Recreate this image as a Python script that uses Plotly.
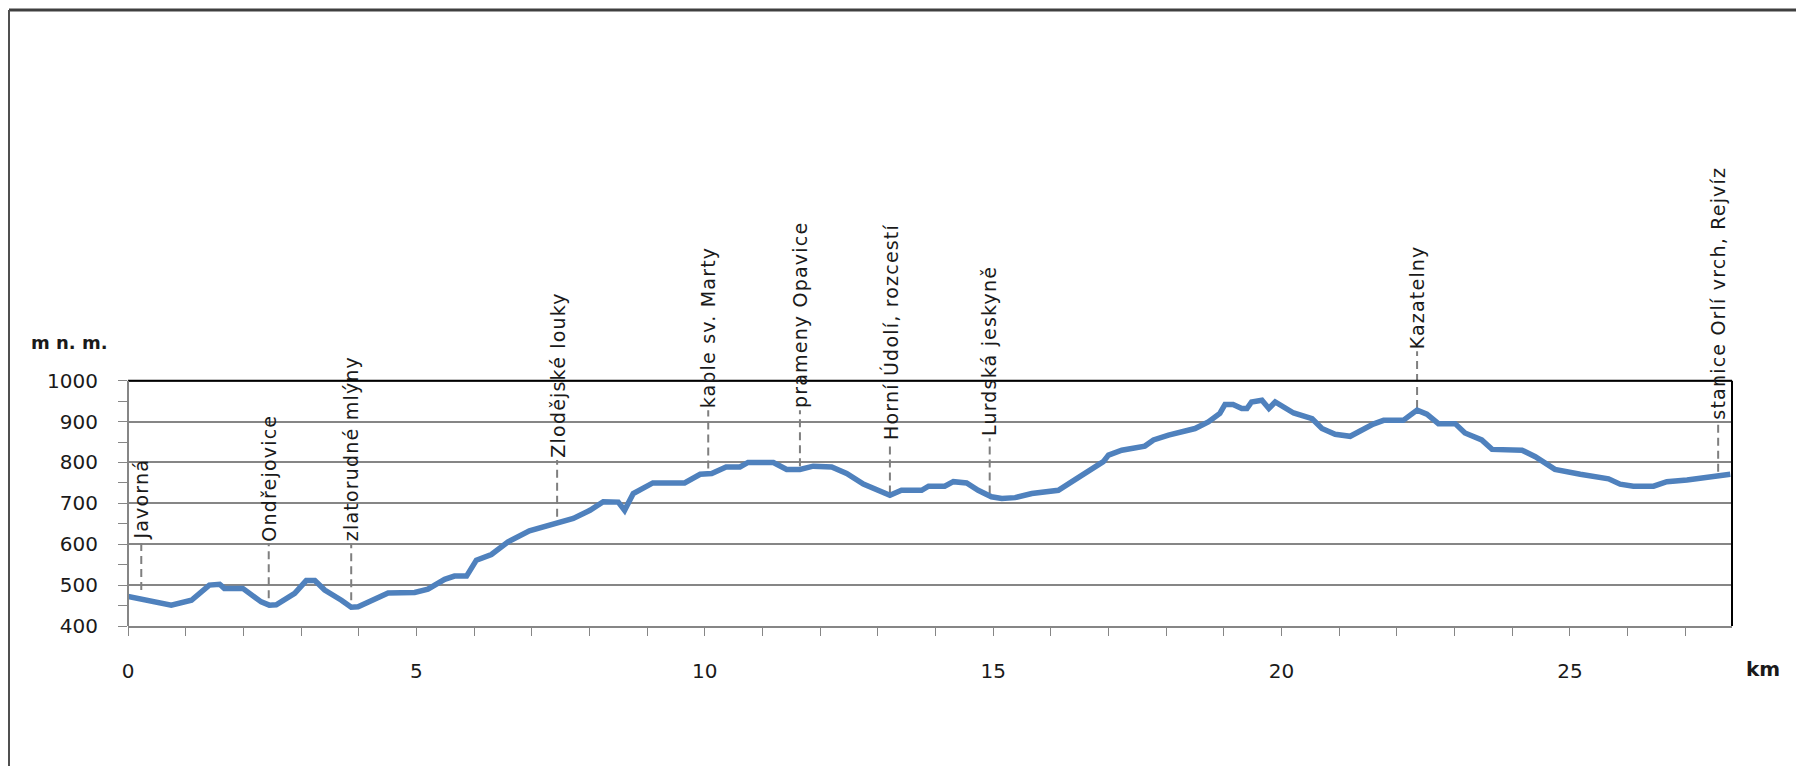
import plotly.graph_objects as go

# elevation profile (km, m n. m.)
profile_km = [
    0.00, 0.29, 0.75, 1.10, 1.21, 1.41, 1.59, 1.67, 1.99, 2.11, 2.31, 2.45, 2.57,
    2.89, 3.09, 3.24, 3.41, 3.70, 3.87, 3.99, 4.22, 4.51, 4.97, 5.20, 5.49, 5.66,
    5.87, 6.04, 6.30, 6.59, 6.96, 7.22, 7.43, 7.72, 8.01, 8.24, 8.50, 8.61, 8.76,
    9.10, 9.65, 9.92, 10.12, 10.37, 10.61, 10.75, 11.19, 11.42, 11.65, 11.88,
    12.20, 12.46, 12.75, 13.04, 13.21, 13.41, 13.76, 13.88, 14.16, 14.31, 14.54,
    14.74, 14.97, 15.15, 15.38, 15.67, 16.13, 16.42, 16.71, 16.91, 17.00, 17.23,
    17.63, 17.78, 18.04, 18.50, 18.73, 18.93, 19.02, 19.16, 19.31, 19.40, 19.48,
    19.66, 19.78, 19.89, 20.21, 20.53, 20.70, 20.93, 21.19, 21.59, 21.77, 22.11,
    22.35, 22.52, 22.72, 23.01, 23.18, 23.47, 23.65, 24.17, 24.40, 24.74, 25.18,
    25.58, 25.67, 25.87, 26.10, 26.45, 26.68, 27.03, 27.43, 27.61, 27.78,
]
profile_elev = [
    472, 463, 451, 463, 475, 500, 502, 492, 492, 480, 459, 451, 452,
    480, 511, 511, 488, 463, 446, 447, 463, 481, 482, 490, 514, 522,
    522, 561, 575, 606, 633, 643, 651, 663, 683, 704, 703, 683, 724,
    750, 750, 771, 773, 789, 789, 800, 800, 783, 783, 791,
    789, 773, 747, 728, 720, 732, 732, 742, 742, 753, 750,
    732, 716, 712, 714, 724, 732, 758, 783, 802, 818, 830,
    840, 855, 867, 883, 899, 920, 942, 942, 932, 932, 948,
    952, 932, 948, 921, 907, 883, 869, 864, 894, 903, 903,
    928, 918, 895, 895, 872, 855, 832, 830, 814, 783, 771,
    761, 760, 747, 742, 742, 753, 757, 763, 769, 771,
]

# waypoints: position, bottom of leader line, start of label
stop_names = [
    'Javorná', 'Ondřejovice', 'zlatorudné mlýny', 'Zlodějské louky',
    'kaple sv. Marty', 'prameny Opavice', 'Horní Údolí, rozcestí',
    'Lurdská jeskyně', 'Kazatelny', 'stanice Orlí vrch, Rejvíz',
]
stop_km = [0.23, 2.44, 3.87, 7.44, 10.06, 11.65, 13.21, 14.94, 22.35, 27.57]
stop_base = [488, 468, 463, 667, 785, 791, 724, 724, 933, 777]
stop_label = [606, 602, 602, 806, 928, 928, 850, 859, 1072, 899]

y_ticks = [400, 500, 600, 700, 800, 900, 1000]
y_minor = [450, 550, 650, 750, 850, 950]
x_ticks = [0, 5, 10, 15, 20, 25]

# page body has an 8px margin, so the figure is drawn 8px smaller and shifted
OFF = 8
W, H = 1804 - OFF, 766 - OFF
L, T = 128 - OFF, 120 - OFF
B = H - (626 - OFF)
R = W - (1732 - OFF)
PW, PH = W - L - R, H - T - B
PX_PER_M = 245.3 / 600
Y_TOP = 400 + PH / PX_PER_M
X_MAX = 27.81
FONT = 'DejaVu Sans'
GRID = '#868686'


def px_x(px):
    # reference-image pixel -> paper fraction
    return (px - OFF - L) / PW


def px_y(py):
    return (H - B - (py - OFF)) / PH


y1000 = (1000 - 400) / (Y_TOP - 400)

lead_x, lead_y = [], []
for k, b, t in zip(stop_km, stop_base, stop_label):
    lead_x += [k, k, None]
    lead_y += [b, t, None]

fig = go.Figure()
fig.add_trace(go.Scatter(
    x=lead_x, y=lead_y, mode='lines', hoverinfo='skip',
    line=dict(color='#7f7f7f', width=2, dash='8px,5px'),
))
fig.add_trace(go.Scatter(
    x=profile_km, y=profile_elev, mode='lines',
    line=dict(color='#4F81BD', width=5.5),
))

for name, k, t in zip(stop_names, stop_km, stop_label):
    fig.add_annotation(
        x=k, y=t, xref='x', yref='y', showarrow=False,
        text='<span style="letter-spacing:1.2px">%s</span>' % name,
        textangle=-90, xanchor='center', yanchor='bottom',
        font=dict(family=FONT, size=19, color='#1a1a1a'),
    )

fig.add_annotation(x=px_x(69), y=px_y(342), xref='paper', yref='paper',
                   xanchor='center', yanchor='middle',
                   text='<b>m n. m.</b>', showarrow=False,
                   font=dict(family=FONT, size=18, color='#1a1a1a'))
fig.add_annotation(x=px_x(1763), y=px_y(669), xref='paper', yref='paper',
                   xanchor='center', yanchor='middle',
                   text='<b>km</b>', showarrow=False,
                   font=dict(family=FONT, size=20, color='#1a1a1a'))

shapes = [
    # plot area box
    dict(type='line', xref='paper', yref='paper', x0=0, x1=1, y0=y1000, y1=y1000,
         line=dict(color='black', width=2)),
    dict(type='line', xref='paper', yref='paper', x0=1, x1=1, y0=0, y1=y1000,
         line=dict(color='black', width=2)),
    dict(type='line', xref='paper', yref='paper', x0=0, x1=0, y0=0, y1=y1000,
         line=dict(color=GRID, width=2)),
    # outer frame
    dict(type='line', xref='paper', yref='paper', x0=px_x(9), x1=px_x(1800),
         y0=px_y(10), y1=px_y(10), line=dict(color='#404040', width=3)),
    dict(type='line', xref='paper', yref='paper', x0=px_x(9), x1=px_x(9),
         y0=px_y(10), y1=px_y(780), line=dict(color='#505050', width=2)),
    dict(type='line', xref='paper', yref='paper', x0=px_x(1799), x1=px_x(1799),
         y0=px_y(10), y1=px_y(780), line=dict(color='#b0b0b0', width=1)),
]

fig.update_layout(
    width=W, height=H,
    margin=dict(l=L, r=R, t=T, b=B, pad=0),
    paper_bgcolor='white', plot_bgcolor='white',
    showlegend=False,
    shapes=shapes,
    xaxis=dict(
        range=[0, X_MAX], tickvals=x_ticks, showgrid=False, zeroline=False,
        showline=True, linecolor=GRID, linewidth=2,
        ticks='outside', ticklen=8, tickcolor=GRID, tickwidth=1,
        minor=dict(dtick=1, tick0=0, ticks='outside', ticklen=8,
                   tickcolor=GRID, tickwidth=1),
        ticklabelstandoff=18,
        tickfont=dict(family=FONT, size=20, color='#1a1a1a'),
    ),
    yaxis=dict(
        range=[400, Y_TOP], tickvals=y_ticks, showgrid=True, gridcolor=GRID,
        gridwidth=2, zeroline=False, showline=False,
        ticks='outside', ticklen=9, tickcolor=GRID, tickwidth=1,
        minor=dict(tickvals=y_minor, ticks='outside', ticklen=9,
                   tickcolor=GRID, tickwidth=1, showgrid=False),
        ticklabelstandoff=16,
        tickfont=dict(family=FONT, size=20, color='#1a1a1a'),
    ),
)

fig.write_html("out.html")
